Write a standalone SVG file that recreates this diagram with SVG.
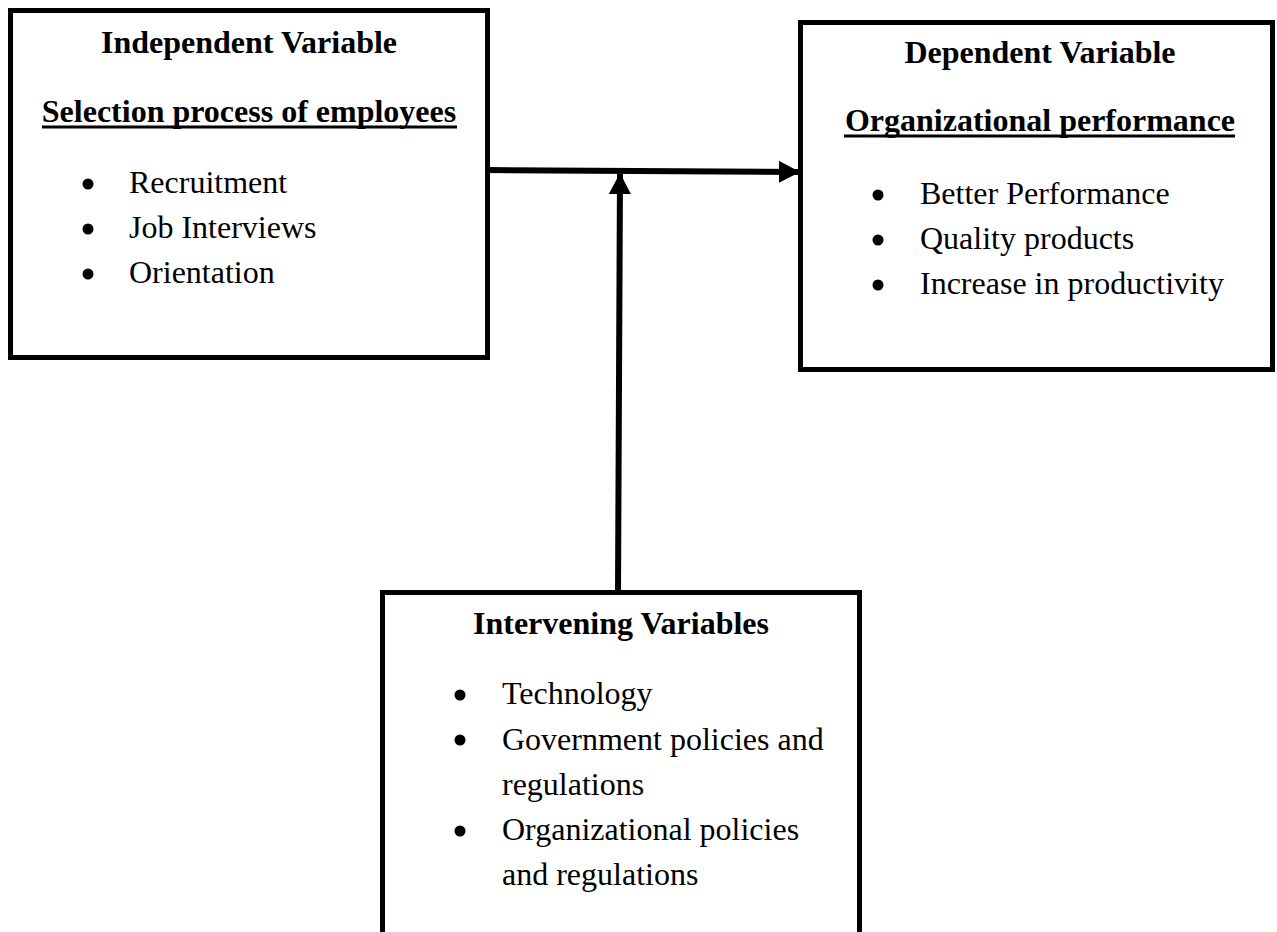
<svg xmlns="http://www.w3.org/2000/svg" width="1277" height="932" viewBox="0 0 1277 932">
<style>
.box{fill:#fff;stroke:#000;stroke-width:5}
.t{font-family:"Liberation Serif","Times New Roman",serif;font-size:32px;fill:#000}
.b{font-weight:bold}
.ul{stroke:#000;stroke-width:3}
.dot{fill:#000}
.conn{stroke:#000;stroke-width:6;fill:none}
</style>
<defs>
<marker id="ah" markerUnits="userSpaceOnUse" markerWidth="22" markerHeight="22" refX="20" refY="11" orient="auto" viewBox="0 0 22 22">
<path d="M0,0 L21,11 L0,22 Z" fill="#000"/>
</marker>
</defs>
<rect width="1277" height="932" fill="#fff"/>
<g id="independent">
<rect class="box" x="10.5" y="10.5" width="477" height="347"/>
<text class="t b" x="249" y="53" text-anchor="middle">Independent Variable</text>
<text class="t b" x="249" y="122" text-anchor="middle">Selection process of employees</text>
<line class="ul" x1="42" y1="127" x2="457" y2="127"/>
<circle class="dot" cx="88" cy="184" r="5.5"/>
<text class="t" x="129" y="193">Recruitment</text>
<circle class="dot" cx="88" cy="229" r="5.5"/>
<text class="t" x="129" y="238">Job Interviews</text>
<circle class="dot" cx="88" cy="274" r="5.5"/>
<text class="t" x="129" y="283">Orientation</text>
</g>
<g id="dependent">
<rect class="box" x="800.5" y="22.5" width="472" height="347"/>
<text class="t b" x="1040" y="63" text-anchor="middle">Dependent Variable</text>
<text class="t b" x="1040" y="131" text-anchor="middle">Organizational performance</text>
<line class="ul" x1="844" y1="136" x2="1235" y2="136"/>
<circle class="dot" cx="878" cy="195" r="5.5"/>
<text class="t" x="920" y="204">Better Performance</text>
<circle class="dot" cx="878" cy="240" r="5.5"/>
<text class="t" x="920" y="249">Quality products</text>
<circle class="dot" cx="878" cy="285" r="5.5"/>
<text class="t" x="920" y="294">Increase in productivity</text>
</g>
<g id="intervening">
<rect class="box" x="382.5" y="592.5" width="477" height="360"/>
<text class="t b" x="621" y="634" text-anchor="middle">Intervening Variables</text>
<circle class="dot" cx="460" cy="695" r="5.5"/>
<text class="t" x="502" y="704">Technology</text>
<circle class="dot" cx="460" cy="740" r="5.5"/>
<text class="t" x="502" y="750">Government policies and</text>
<text class="t" x="502" y="795">regulations</text>
<circle class="dot" cx="460" cy="831" r="5.5"/>
<text class="t" x="502" y="840">Organizational policies</text>
<text class="t" x="502" y="885">and regulations</text>
</g>
<g id="connectors">
<line class="conn" x1="488" y1="170" x2="799" y2="172" marker-end="url(#ah)"/>
<line class="conn" x1="618" y1="592" x2="620" y2="174" marker-end="url(#ah)"/>
</g>
</svg>
